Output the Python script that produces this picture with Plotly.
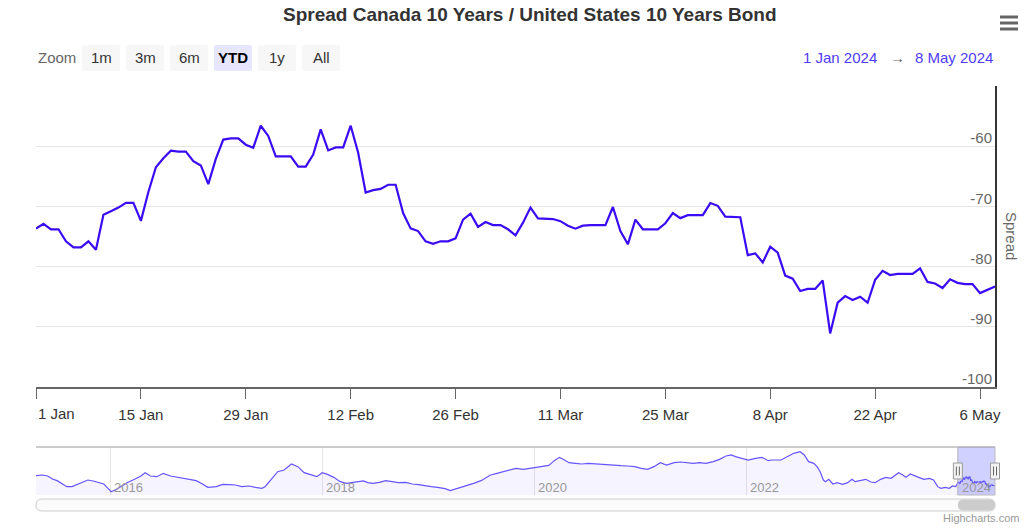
import plotly.graph_objects as go
import pandas as pd
from datetime import datetime

# ---------------- data ----------------
TITLE = "Spread Canada 10 Years / United States 10 Years Bond"
Y_TITLE = "Spread"
ytd_start = "2024-01-01"
ytd_end = "2024-05-08"

# daily spread values (bp), 1 Jan 2024 .. 8 May 2024
spread_ytd = [
    -73.7, -72.9, -73.8, -73.8, -75.8, -76.8, -76.8, -75.8, -77.2, -71.4,
    -70.8, -70.2, -69.4, -69.4, -72.4, -67.6, -63.5, -62.0, -60.75, -60.9,
    -60.9, -62.5, -63.2, -66.3, -62.1, -58.9, -58.7, -58.7, -59.75, -60.25,
    -56.6, -58.3, -61.7, -61.7, -61.7, -63.4, -63.4, -61.4, -57.2, -60.7,
    -60.2, -60.2, -56.6, -61.1, -67.7, -67.3, -67.1, -66.4, -66.4, -71.1,
    -73.65, -74.1, -75.8, -76.2, -75.8, -75.8, -75.3, -72.2, -71.2, -73.4,
    -72.6, -73.1, -73.1, -73.8, -74.8, -72.7, -70.2, -72.0, -72.1, -72.1,
    -72.45, -73.2, -73.7, -73.2, -73.1, -73.1, -73.1, -70.1, -74.1, -76.3,
    -72.2, -73.8, -73.8, -73.8, -72.8, -71.1, -71.95, -71.45, -71.45, -71.45,
    -69.45, -69.9, -71.7, -71.8, -71.8, -78.1, -77.8, -79.3, -76.7, -77.7,
    -81.5, -82.0, -84.05, -83.7, -83.7, -82.3, -91.1, -86.0, -84.9, -85.55,
    -85.0, -86.0, -82.2, -80.7, -81.4, -81.2, -81.2, -81.2, -80.3, -82.55,
    -82.8, -83.55, -82.1, -82.7, -82.9, -82.9, -84.4, -83.9, -83.3,
]
dates_ytd = pd.date_range(ytd_start, periods=len(spread_ytd), freq="D")

x_tick_labels = ["1 Jan", "15 Jan", "29 Jan", "12 Feb", "26 Feb",
                 "11 Mar", "25 Mar", "8 Apr", "22 Apr", "6 May"]
x_tick_dates = pd.date_range(ytd_start, periods=len(x_tick_labels), freq="14D")
y_tick_vals = [-100, -90, -80, -70, -60, -50]
y_tick_text = ["-100", "-90", "-80", "-70", "-60", ""]
y_range = [-100, -50]

# navigator history (decimal year, spread bp) before 2024
nav_years = [
    2015.30, 2015.36, 2015.41, 2015.46, 2015.50, 2015.55, 2015.59, 2015.64, 2015.69, 2015.73,
    2015.79, 2015.84, 2015.89, 2015.94, 2015.98, 2016.01, 2016.06, 2016.10, 2016.16, 2016.23,
    2016.29, 2016.33, 2016.38, 2016.44, 2016.50, 2016.57, 2016.63, 2016.69, 2016.75, 2016.81,
    2016.87, 2016.92, 2017.00, 2017.06, 2017.12, 2017.18, 2017.24, 2017.31, 2017.37, 2017.43,
    2017.46, 2017.52, 2017.58, 2017.64, 2017.71, 2017.77, 2017.83, 2017.89, 2017.95, 2018.00,
    2018.05, 2018.11, 2018.17, 2018.23, 2018.29, 2018.34, 2018.39, 2018.43, 2018.48, 2018.54,
    2018.60, 2018.66, 2018.72, 2018.79, 2018.85, 2018.91, 2018.97, 2019.03, 2019.09, 2019.16,
    2019.21, 2019.25, 2019.31, 2019.37, 2019.43, 2019.50, 2019.54, 2019.59, 2019.65, 2019.71,
    2019.77, 2019.83, 2019.90, 2019.96, 2020.02, 2020.08, 2020.14, 2020.19, 2020.24, 2020.27,
    2020.33, 2020.39, 2020.45, 2020.51, 2020.58, 2020.64, 2020.70, 2020.76, 2020.82, 2020.88,
    2020.95, 2021.01, 2021.07, 2021.13, 2021.19, 2021.25, 2021.32, 2021.38, 2021.44, 2021.50,
    2021.56, 2021.62, 2021.69, 2021.75, 2021.81, 2021.86, 2021.90, 2021.96, 2022.02, 2022.09,
    2022.15, 2022.21, 2022.24, 2022.33, 2022.36, 2022.41, 2022.45, 2022.51, 2022.55, 2022.59,
    2022.64, 2022.67, 2022.70, 2022.73, 2022.75, 2022.78, 2022.82, 2022.86, 2022.91, 2022.96,
    2023.00, 2023.03, 2023.08, 2023.13, 2023.18, 2023.22, 2023.27, 2023.32, 2023.37, 2023.41,
    2023.44, 2023.48, 2023.51, 2023.55, 2023.59, 2023.63, 2023.68, 2023.73, 2023.77, 2023.81,
    2023.84, 2023.88, 2023.92, 2023.95, 2023.98,
]
nav_values = [
    -54.2, -52.3, -55.2, -64.8, -68.7, -78.3, -86.0, -86.0, -79.3, -72.5,
    -66.8, -69.6, -74.5, -78.3, -90.8, -100.5, -93.7, -86.0, -74.5, -64.8,
    -55.2, -45.6, -55.2, -57.1, -47.5, -55.2, -59.1, -62.0, -64.8, -68.7,
    -78.3, -88.0, -86.0, -79.3, -80.2, -81.2, -86.0, -84.1, -88.0, -90.8,
    -86.0, -64.8, -42.7, -37.9, -20.5, -28.2, -45.6, -51.4, -57.1, -45.6,
    -50.4, -59.1, -71.6, -76.4, -74.5, -71.6, -69.6, -74.5, -76.4, -73.5,
    -68.7, -71.6, -74.5, -73.5, -78.3, -80.2, -84.1, -86.0, -88.0, -91.8,
    -97.6, -93.7, -88.9, -84.1, -76.4, -68.7, -61.0, -52.3, -47.5, -42.7,
    -37.9, -33.1, -35.9, -33.1, -30.2, -28.2, -24.4, -10.9, -1.3, -6.1,
    -16.7, -18.6, -20.5, -18.6, -20.5, -22.5, -23.4, -24.4, -25.4, -26.3,
    -28.2, -33.1, -35.9, -28.2, -16.7, -23.4, -16.7, -14.8, -16.7, -18.6,
    -16.7, -18.6, -13.8, -7.1, 2.6, 5.5, 0.7, -4.2, -9.0, -4.2,
    -1.3, -10.9, -9.0, -9.0, -4.2, 5.5, 10.3, 15.1, 5.5, -13.8,
    -18.6, -28.2, -42.7, -66.8, -71.6, -64.8, -78.3, -74.5, -79.3, -74.5,
    -64.8, -71.6, -68.7, -64.8, -72.5, -74.5, -64.8, -59.1, -62.0, -52.3,
    -45.6, -52.3, -59.1, -49.4, -55.2, -59.1, -64.8, -62.0, -66.8, -86.0,
    -90.8, -88.0, -90.8, -84.1, -86.0,
]
nav_year_ticks = [2016, 2018, 2020, 2022, 2024]
nav_y_range = [-110.1, 28.6]

zoom_buttons = ["1m", "3m", "6m", "YTD", "1y", "All"]
selected_button = "YTD"
range_from_text = "1 Jan 2024"
range_to_text = "8 May 2024"
credit_text = "Highcharts.com"

# ---------------- styling ----------------
FONT = "Liberation Sans, Arial, Helvetica, sans-serif"
LINE_COLOR = "#3a0cf5"
NAV_LINE = "#6655ff"
W, H = 1024, 530
PL, PR, PT, PB = 36, 995, 86, 495          # plotting block (pixels)
MAIN_BOTTOM = 387
NAV_TOP = 447


def px(X):
    return (X - PL) / (PR - PL)


def py(Y):
    return (PB - Y) / (PB - PT)


def yr2date(y):
    yi = int(y)
    a, b = datetime(yi, 1, 1), datetime(yi + 1, 1, 1)
    return a + (b - a) * (y - yi)


def rrect_path(x0, y0, x1, y1, r):
    pts = [("M", x0 + r, y0), ("L", x1 - r, y0), ("Q", x1, y0, x1, y0 + r),
           ("L", x1, y1 - r), ("Q", x1, y1, x1 - r, y1), ("L", x0 + r, y1),
           ("Q", x0, y1, x0, y1 - r), ("L", x0, y0 + r), ("Q", x0, y0, x0 + r, y0)]
    s = ""
    for p in pts:
        cmd = p[0]
        coords = p[1:]
        parts = []
        for i in range(0, len(coords), 2):
            parts.append(f"{px(coords[i]):.5f},{py(coords[i + 1]):.5f}")
        s += cmd + " " + " ".join(parts) + " "
    return s + "Z"


nav_dates = [yr2date(v) for v in nav_years] + list(dates_ytd)
nav_all = nav_values + spread_ytd
nav_start = nav_dates[0]
nav_end = pd.Timestamp(ytd_end).to_pydatetime()

fig = go.Figure()

# main series
fig.add_trace(go.Scatter(x=dates_ytd, y=spread_ytd, mode="lines",
                         line=dict(color=LINE_COLOR, width=2.2),
                         hoverinfo="skip", xaxis="x", yaxis="y"))

# navigator baseline + area series
fig.add_trace(go.Scatter(x=[nav_start, nav_end], y=[nav_y_range[0]] * 2, mode="lines",
                         line=dict(width=0, color="rgba(0,0,0,0)"),
                         hoverinfo="skip", xaxis="x2", yaxis="y2"))
fig.add_trace(go.Scatter(x=nav_dates, y=nav_all, mode="lines",
                         line=dict(color=NAV_LINE, width=1.2),
                         fill="tonexty", fillcolor="rgba(80,60,255,0.06)",
                         hoverinfo="skip", xaxis="x2", yaxis="y2"))

shapes = []
annotations = []

# navigator top outline
shapes.append(dict(type="line", xref="paper", yref="paper", x0=0, x1=1,
                   y0=py(NAV_TOP), y1=py(NAV_TOP), line=dict(color="#cccccc", width=2)))

# selection mask
sel0 = pd.Timestamp(ytd_start).to_pydatetime()
total = (nav_end - nav_start).total_seconds()
f0 = (sel0 - nav_start).total_seconds() / total
f1 = 1.0
hx0 = PL + f0 * (PR - PL)
hx1 = PL + f1 * (PR - PL)
shapes.append(dict(type="rect", xref="paper", yref="paper", x0=f0, x1=f1,
                   y0=0, y1=py(NAV_TOP), fillcolor="rgba(102,102,255,0.3)",
                   line=dict(color="#bbbbbb", width=1), layer="above"))

# handles
for hx in (hx0, hx1):
    shapes.append(dict(type="rect", xref="paper", yref="paper",
                       x0=px(hx - 4.5), x1=px(hx + 4.5), y0=py(479), y1=py(463),
                       fillcolor="#f2f2f2", line=dict(color="#999999", width=1), layer="above"))
    for dx in (-1.5, 1.5):
        shapes.append(dict(type="line", xref="paper", yref="paper",
                           x0=px(hx + dx), x1=px(hx + dx), y0=py(475.5), y1=py(466.5),
                           line=dict(color="#666666", width=1), layer="above"))

# scrollbar
shapes.append(dict(type="path", xref="paper", yref="paper",
                   path=rrect_path(PL, 499, PR, 511, 6),
                   fillcolor="#fbfbfb", line=dict(color="#cccccc", width=1)))
shapes.append(dict(type="path", xref="paper", yref="paper",
                   path=rrect_path(hx0, 499.5, hx1, 510.5, 5.5),
                   fillcolor="#cccccc", line=dict(width=0)))

# navigator year labels
for yv in nav_year_ticks:
    annotations.append(dict(x=datetime(yv, 1, 1), y=0, xref="x2", yref="y2 domain",
                            text=str(yv), showarrow=False, xanchor="left", yanchor="bottom",
                            xshift=2, yshift=-2, font=dict(family=FONT, size=13, color="#999999")))

# zoom buttons
annotations.append(dict(x=px(36), y=py(58), xref="paper", yref="paper", text="Zoom",
                        showarrow=False, xanchor="left", yanchor="middle",
                        font=dict(family=FONT, size=15, color="#666666")))
bx = 82
for lab in zoom_buttons:
    active = lab == selected_button
    shapes.append(dict(type="path", xref="paper", yref="paper",
                       path=rrect_path(bx, 45, bx + 38, 71, 2),
                       fillcolor="#e6e6ff" if active else "#f7f7f7", line=dict(width=0)))
    annotations.append(dict(x=px(bx + 19), y=py(58), xref="paper", yref="paper",
                            text=f"<b>{lab}</b>" if active else lab, showarrow=False,
                            xanchor="center", yanchor="middle",
                            font=dict(family=FONT, size=15, color="#000000" if active else "#333333")))
    bx += 44

# date range display
annotations.append(dict(x=px(995), y=py(57), xref="paper", yref="paper", text=range_to_text,
                        showarrow=False, xanchor="right", yanchor="middle",
                        font=dict(family=FONT, size=15, color="#4f3cf7")))
annotations.append(dict(x=px(897), y=py(57), xref="paper", yref="paper", text="→",
                        showarrow=False, xanchor="center", yanchor="middle",
                        font=dict(family=FONT, size=15, color="#666666")))
annotations.append(dict(x=px(879), y=py(57), xref="paper", yref="paper", text=range_from_text,
                        showarrow=False, xanchor="right", yanchor="middle",
                        font=dict(family=FONT, size=15, color="#4f3cf7")))

# title
annotations.append(dict(x=px(530), y=py(14), xref="paper", yref="paper", text=f"<b>{TITLE}</b>",
                        showarrow=False, xanchor="center", yanchor="middle",
                        font=dict(family=FONT, size=19, color="#333333")))

# y axis title
annotations.append(dict(x=px(1012), y=py(236), xref="paper", yref="paper", text=Y_TITLE,
                        showarrow=False, xanchor="center", yanchor="middle", textangle=90,
                        font=dict(family=FONT, size=15, color="#666666")))

# first x tick label (left aligned like Highcharts)
annotations.append(dict(x=x_tick_dates[0], y=py(413), xref="x", yref="paper",
                        text=x_tick_labels[0], showarrow=False, xanchor="left", yanchor="middle",
                        font=dict(family=FONT, size=15, color="#333333")))

# credits
annotations.append(dict(x=px(1021), y=py(518), xref="paper", yref="paper", text=credit_text,
                        showarrow=False, xanchor="right", yanchor="middle",
                        font=dict(family=FONT, size=11, color="#999999")))

# export menu icon
for yy in (17, 23, 29):
    shapes.append(dict(type="line", xref="paper", yref="paper", x0=px(1000), x1=px(1018),
                       y0=py(yy), y1=py(yy), line=dict(color="#666666", width=3)))

fig.update_layout(
    width=W, height=H,
    margin=dict(l=PL, r=W - PR, t=PT, b=H - PB, pad=0),
    paper_bgcolor="white", plot_bgcolor="white",
    showlegend=False, hovermode=False,
    font=dict(family=FONT, size=15, color="#333333"),
    xaxis=dict(domain=[0, 1], anchor="y", type="date", range=[ytd_start, ytd_end],
               tickvals=list(x_tick_dates), ticktext=[""] + x_tick_labels[1:],
               ticks="outside", ticklen=10, tickcolor="#666666", tickwidth=1,
               showline=True, linecolor="#666666", linewidth=1.5,
               showgrid=False, zeroline=False, automargin=False,
               tickfont=dict(family=FONT, size=15, color="#333333"),
               ticklabelstandoff=3, ticklabeloverflow="allow", fixedrange=True),
    yaxis=dict(domain=[py(MAIN_BOTTOM), 1], anchor="x", side="right", range=y_range,
               tickvals=y_tick_vals, ticktext=y_tick_text,
               showgrid=True, gridcolor="#e6e6e6", gridwidth=1,
               showline=True, linecolor="#333333", linewidth=2,
               ticks="", ticklabelposition="inside", ticklabelshift=-8, ticklabelstandoff=3,
               ticklabeloverflow="allow",
               zeroline=False, automargin=False,
               tickfont=dict(family=FONT, size=15, color="#666666"), fixedrange=True),
    xaxis2=dict(domain=[0, 1], anchor="y2", type="date", range=[nav_start, nav_end],
                tickvals=[datetime(v, 1, 1) for v in nav_year_ticks],
                showticklabels=False, ticks="", showgrid=True, gridcolor="#e6e6e6",
                showline=False, zeroline=False, automargin=False, fixedrange=True),
    yaxis2=dict(domain=[0, py(NAV_TOP)], anchor="x2", range=nav_y_range, visible=False,
                showgrid=False, zeroline=False, fixedrange=True),
    shapes=shapes, annotations=annotations,
)

fig.write_html("out.html", config={"displayModeBar": False},
               post_script="document.body.style.margin='0';document.body.style.overflow='hidden';")
